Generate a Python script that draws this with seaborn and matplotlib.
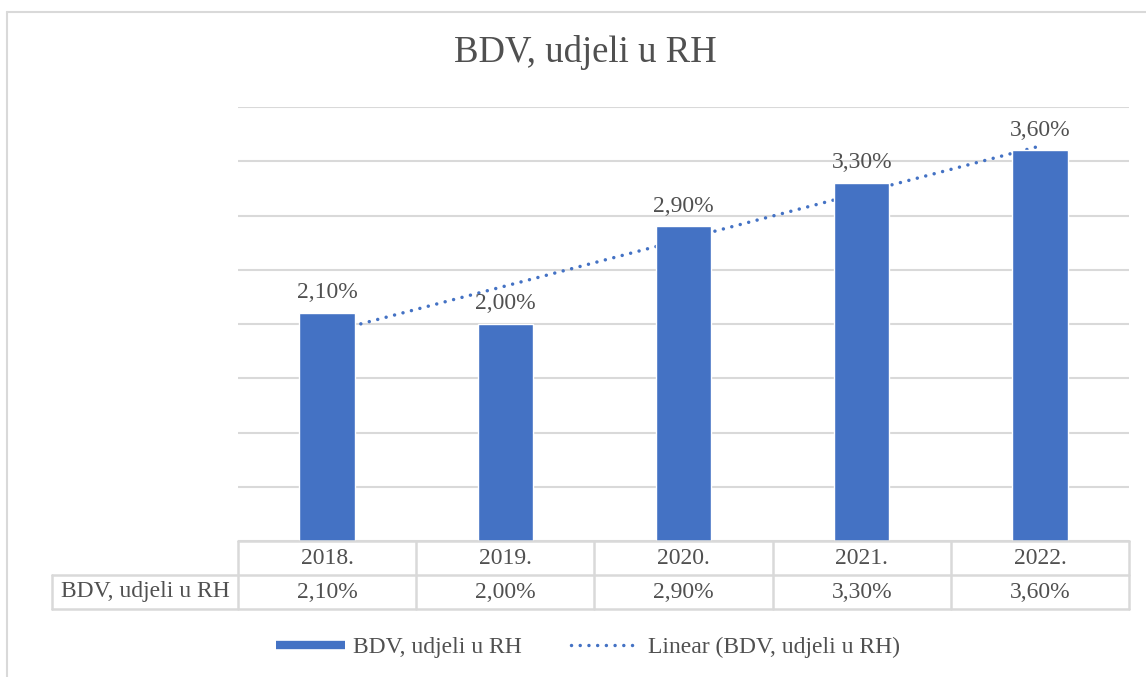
import numpy as np
import pandas as pd
import matplotlib
matplotlib.use("Agg")
import matplotlib.pyplot as plt
import seaborn as sns
from matplotlib.lines import Line2D

# chart data
years = ["2018.", "2019.", "2020.", "2021.", "2022."]
shares = [2.10, 2.00, 2.90, 3.30, 3.60]
series_name = "BDV, udjeli u RH"
title = "BDV, udjeli u RH"

blue = "#4472C4"
grey_txt = "#505050"
grey_line = "#d9d9d9"

sns.set_theme(style="white")
plt.rcParams["font.family"] = ["Liberation Serif", "DejaVu Serif"]

df = pd.DataFrame({"Year": years, "Share": shares})

fig = plt.figure(figsize=(11.46, 6.77), dpi=100)
W, H = 1146, 677
# plot area in pixels: x 238..1129, y 107..541
ax = fig.add_axes([238 / W, 1 - 541 / H, (1129 - 238) / W, (541 - 107) / H])

sns.barplot(data=df, x="Year", y="Share", color=blue, width=0.31,
            saturation=1, ax=ax, zorder=2)

# linear trendline fitted on the data
xs = np.arange(len(shares))
k, b = np.polyfit(xs, shares, 1)
ax.plot(xs, k * xs + b, color=blue, lw=2.5, linestyle=(0, (0.01, 2.5)),
        dash_capstyle="round", zorder=1.5)

# data labels
labels = [f"{v:.2f}".replace(".", ",") + "%" for v in shares]
ax.bar_label(ax.containers[0], labels=labels, padding=7, fontsize=17,
             color=grey_txt)

ax.set_xlim(-0.5, len(years) - 0.5)
ax.set_ylim(0, 4)
ax.set_yticks(np.arange(0, 4.01, 0.5))
ax.set_axisbelow(True)
ax.yaxis.grid(True, color=grey_line, lw=1.5)
ax.set_yticklabels([])
ax.set_xticks([])
ax.set_xlabel("")
ax.set_ylabel("")
ax.tick_params(left=False, bottom=False)
for s in ax.spines.values():
    s.set_visible(False)

# data table under the axis
row_h = 34 / 434
left_cell = (52 - 238) / 891
n = len(years)
tr = ax.transAxes
lkw = dict(color=grey_line, lw=1.8, transform=tr, clip_on=False, zorder=3)
ax.plot([0, 1], [0, 0], **lkw)
ax.plot([left_cell, 1], [-row_h, -row_h], **lkw)
ax.plot([left_cell, 1], [-2 * row_h, -2 * row_h], **lkw)
ax.plot([left_cell, left_cell], [-row_h, -2 * row_h], **lkw)
for i in range(n + 1):
    ax.plot([i / n, i / n], [0, -2 * row_h], **lkw)
for i in range(n):
    ax.text((i + 0.5) / n, -0.5 * row_h, years[i], transform=tr, ha="center",
            va="center", fontsize=17, color=grey_txt)
    ax.text((i + 0.5) / n, -1.5 * row_h, labels[i], transform=tr, ha="center",
            va="center", fontsize=17, color=grey_txt)
ax.text(left_cell / 2, -1.5 * row_h, series_name, transform=tr, ha="center",
        va="center", fontsize=17, color=grey_txt)

# title
fig.text(585 / W, 1 - 52 / H, title, ha="center", va="center", fontsize=26.5,
         color=grey_txt)

# legend
handles = [
    Line2D([], [], color=blue, lw=6, solid_capstyle="butt"),
    Line2D([], [], color=blue, lw=2.5, linestyle=(0, (0.01, 2.5)),
           dash_capstyle="round"),
]
leg = fig.legend(handles, [series_name, f"Linear ({series_name})"],
                 loc="center", bbox_to_anchor=(588 / W, 1 - 647 / H), ncol=2,
                 frameon=False, fontsize=17, handlelength=2.9,
                 handletextpad=0.35, columnspacing=2.1)
for t in leg.get_texts():
    t.set_color(grey_txt)

# chart border
fig.add_artist(Line2D([6.5 / W, 6.5 / W], [0, 1 - 11.5 / H], color=grey_line,
                      lw=1.5, transform=fig.transFigure))
fig.add_artist(Line2D([6.5 / W, 1], [1 - 11.5 / H, 1 - 11.5 / H],
                      color=grey_line, lw=1.5, transform=fig.transFigure))

fig.savefig("out.png", dpi=100, facecolor="white")
